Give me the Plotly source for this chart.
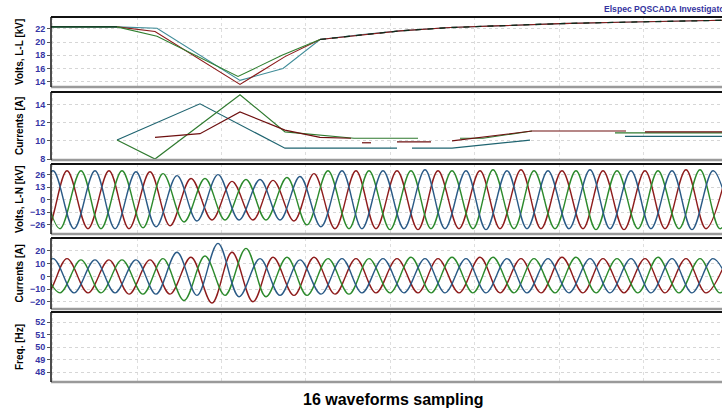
import plotly.graph_objects as go

# ---------------- DATA (time in ms) ----------------
# Panel 1: RMS line-to-line voltage [kV]
vll_red_t = [33, 52, 94.5, 117, 134.5, 154.5, 174.5, 199.5, 224.5, 254.5, 284.5, 314.5, 335.5]
vll_red = [22.3, 21.6, 13.6, 17.8, 20.4, 21.1, 21.7, 22.2, 22.5, 22.8, 23.0, 23.2, 23.3]
vll_grn_t = [0, 33, 53, 93.5, 115.5, 134.5, 154.5, 174.5, 199.5, 224.5, 254.5, 284.5, 314.5, 335.5]
vll_grn = [22.3, 22.3, 20.9, 14.8, 18.0, 20.4, 21.1, 21.7, 22.2, 22.5, 22.8, 23.0, 23.2, 23.3]
vll_blu_t = [0, 33, 53, 94.5, 116, 134.5, 154.5, 174.5, 199.5, 224.5, 254.5, 284.5, 314.5, 335.5]
vll_blu = [22.3, 22.3, 22.1, 14.2, 16.0, 20.4, 21.1, 21.7, 22.2, 22.5, 22.8, 23.0, 23.2, 23.3]

# Panel 2: RMS currents [A] (None = gap in record)
cur_blu_t = [33, 74.5, 117, 173, None, 180.5, 200.5, 239.5, None, 287, 335.5]
cur_blu = [10.1, 14.1, 9.2, 9.2, None, 9.2, 9.2, 10.1, None, 10.5, 10.5]
cur_grn_t = [33, 52, 94.5, 117, 151.5, 183.5, None, 204.5, 216, 240.5, None, 282, 335.5]
cur_grn = [10.1, 8.0, 15.1, 11.0, 10.3, 10.3, None, 10.3, 10.3, 11.1, None, 10.9, 10.9]
cur_red_t = [52, 74.5, 94.5, 117, 134.5, 150, None, 155.5, 160, None, 173, 190, None, 200.5, 240.5, 287.5, None, 297, 335.5]
cur_red = [10.4, 10.8, 13.2, 11.2, 10.4, 10.3, None, 9.8, 9.8, None, 9.9, 9.9, None, 10.0, 11.1, 11.1, None, 11.0, 11.0]

# Panels 3/4: waveform extrema (peak / trough times per phase) [ms]
ph_blu_t = [-9, 1, 11.5, 22, 32, 42.5, 52.5, 63, 73, 83.5, 94, 104.5, 114.5, 124.5, 135, 145.5, 155.5, 166,
            176.5, 187, 197, 207.5, 217.5, 228, 238, 248.5, 259, 269.5, 279.5, 290, 300, 310.5, 320.5, 331, 341]
ph_red_t = [-12.5, -2, 8, 18.5, 29, 39, 49.5, 59.5, 70, 80.5, 90.5, 101, 111, 121.5, 131.5, 142, 152.5, 162.5,
            173, 183.5, 193.5, 204, 214.5, 224.5, 235, 245, 255.5, 266, 276, 286.5, 297, 307, 317.5, 327.5, 338]
ph_grn_t = [-5.5, 4.5, 15, 25, 35.5, 46, 56, 66.5, 77, 87, 97.5, 107.5, 118, 128, 138.5, 149, 159, 169.5,
            180, 190, 200.5, 211, 221, 231.5, 241.5, 252, 262.5, 272.5, 283, 293.5, 303.5, 314, 324.5, 334.5, 345]

# Volts L-N [kV] at those extrema
vln_blu = [-30, 30, -30, 30, -30, 29, -28, 25, -22, 26, -21, 21, -21, 24, -28, 30, -30, 30,
           -30, 31, -30, 30, -31, 30, -30, 30, -30, 31, -30, 30, -30, 30, -31, 30, -30]
vln_red = [30, -30, 30, -30, 30, -30, 29, -27, 22, -21, 19, -21, 20, -22, 27, -30, 30, -30,
           30, -31, 30, -30, 30, -30, 31, -30, 30, -30, 30, -31, 30, -30, 31, -30, 30]
vln_grn = [30, -30, 30, -30, 30, -29, 27, -23, 22, -21, 21, -21, 23, -26, 30, -30, 30, -31,
           30, -30, 30, -30, 31, -30, 30, -30, 30, -31, 30, -30, 30, -30, 31, -30, 30]

# Currents [A] at those extrema
ia_blu = [-13, 14, -13, 13, -13, 13, -14, 19, -15, 26, -16, 14, -15, 13, -14, 14, -13, 14,
          -13, 14, -13, 14, -13, 14, -13, 14, -13, 14, -13, 14, -13, 14, -13, 14, -13]
ia_red = [13, -13, 14, -13, 13, -14, 13, -14, 15, -21, 19, -20, 15, -15, 15, -14, 14, -13,
          14, -13, 14, -13, 15, -13, 14, -13, 15, -13, 14, -13, 14, -13, 14, -13, 14]
ia_grn = [13, -13, 13, -13, 13, -14, 14, -19, 16, -15, 22, -16, 15, -15, 14, -14, 14, -13,
          15, -13, 15, -13, 15, -13, 14, -13, 15, -13, 14, -13, 15, -13, 14, -13, 14]

# Axis ticks
t_vll = [14, 16, 18, 20, 22]
t_cur = [8, 10, 12, 14]
t_vln = [-26, -13, 0, 13, 26]
t_ia = [-20, -10, 0, 10, 20]
t_frq = [48, 49, 50, 51, 52]
y_titles = ["Volts, L-L [kV]", "Currents [A]", "Volts, L-N [kV]", "Currents [A]", "Freq. [Hz]"]

# ---------------- FIGURE ----------------
W, H = 722, 410
LEFT = 51
panels_px = [(17, 87), (92, 160), (164, 234), (238, 309), (312, 382)]
yranges = [[13.2, 23.8], [7.9, 15.4], [-35.5, 37], [-25.7, 30.2], [47.2, 52.8]]
yticks = [t_vll, t_cur, t_vln, t_ia, t_frq]

RED, GRN, BLU = "#8e1c1c", "#2c8a2c", "#2a5a86"

fig = go.Figure()


def add(x, y, row, color, width=1.0, dash="solid", shape="linear"):
    ax = "" if row == 1 else str(row)
    fig.add_trace(go.Scatter(x=x, y=y, mode="lines", xaxis="x" + ax, yaxis="y" + ax,
                             line=dict(color=color, width=width, dash=dash, shape=shape),
                             connectgaps=False, hoverinfo="skip", showlegend=False))


# Panel 1
add(vll_blu_t, vll_blu, 1, "#3f8c98", 1.1)
add(vll_red_t, vll_red, 1, "#8b1a1a", 1.1)
add(vll_grn_t[:6], vll_grn[:6], 1, "#2f7f2f", 1.1)
add(vll_grn_t[5:], vll_grn[5:], 1, "#0c2c1c", 1.3, dash="6px,6px")
add(vll_grn_t[:2], vll_grn[:2], 1, "#0c2c1c", 1.3)

# Panel 2
add(cur_blu_t, cur_blu, 2, "#1f6470", 1.2)
add(cur_grn_t, cur_grn, 2, "#2f7a2f", 1.2)
add(cur_red_t, cur_red, 2, "#6e1010", 1.2)

# Panel 3
add(ph_red_t, vln_red, 3, RED, 1.4, shape="spline")
add(ph_grn_t, vln_grn, 3, GRN, 1.4, shape="spline")
add(ph_blu_t, vln_blu, 3, BLU, 1.4, shape="spline")

# Panel 4
add(ph_red_t, ia_red, 4, RED, 1.4, shape="spline")
add(ph_grn_t, ia_grn, 4, GRN, 1.4, shape="spline")
add(ph_blu_t, ia_blu, 4, BLU, 1.4, shape="spline")

# Panel 5: frequency (no samples recorded) - empty trace keeps the axis drawn
add([None], [None], 5, "#000", 1.0)

layout = dict(width=W, height=H, margin=dict(l=LEFT, r=0, t=0, b=0, autoexpand=False),
              paper_bgcolor="white", plot_bgcolor="white", showlegend=False)

tickfont = dict(family="Liberation Sans, Arial", size=9, color="#3535a5", weight="bold")
shapes = []
annotations = []
for i, (top, bot) in enumerate(panels_px):
    ax = "" if i == 0 else str(i + 1)
    dom = [1 - bot / H, 1 - top / H]
    layout["xaxis" + ax] = dict(domain=[0, 1], range=[0, 335.5], anchor="y" + ax,
                                showticklabels=False, ticks="", showgrid=True,
                                gridcolor="#dedede", griddash="dot", gridwidth=1,
                                tick0=0.8, dtick=42.2, zeroline=False, showline=False,
                                **({} if i == 0 else {"matches": "x"}))
    layout["yaxis" + ax] = dict(domain=dom, range=yranges[i], anchor="x" + ax,
                                tickvals=yticks[i], tickfont=tickfont, ticks="outside",
                                ticklen=3, tickcolor="#555", showgrid=True,
                                gridcolor="#d6d6d6", griddash="dot", zeroline=False,
                                showline=False)
    y0, y1 = dom
    shapes.append(dict(type="line", xref="paper", yref="paper", x0=0, x1=1.05, y0=y0, y1=y0,
                       line=dict(color="#9a9a9a", width=2.5)))
    shapes.append(dict(type="line", xref="paper", yref="paper", x0=0, x1=1.05, y0=y1, y1=y1,
                       line=dict(color="#111", width=2)))
    shapes.append(dict(type="line", xref="paper", yref="paper", x0=0, x1=0, y0=y0, y1=y1,
                       line=dict(color="#111", width=1.5)))
    annotations.append(dict(text=y_titles[i], xref="paper", yref="paper",
                            x=(19 - LEFT) / (W - LEFT), y=(y0 + y1) / 2, textangle=-90,
                            showarrow=False, xanchor="center", yanchor="middle",
                            font=dict(family="Liberation Sans, Arial", size=10, color="black",
                                      weight="bold")))

annotations.append(dict(text="16 waveforms sampling", xref="paper", yref="paper",
                        x=(393 - LEFT) / (W - LEFT), y=1 - 399 / H, showarrow=False,
                        xanchor="center", yanchor="middle",
                        font=dict(family="Liberation Sans, Arial", size=16, color="black",
                                  weight="bold")))
annotations.append(dict(text="Elspec PQSCADA Investigator", xref="paper", yref="paper",
                        x=(602 - LEFT) / (W - LEFT), y=1 - 9 / H, showarrow=False,
                        xanchor="left", yanchor="middle",
                        font=dict(family="Liberation Sans, Arial", size=8.6, color="#3434a0",
                                  weight="bold")))
layout["shapes"] = shapes
layout["annotations"] = annotations
fig.update_layout(**layout)
fig.write_html("out.html", config={"displayModeBar": False},
               post_script="document.body.style.margin='0px';")
